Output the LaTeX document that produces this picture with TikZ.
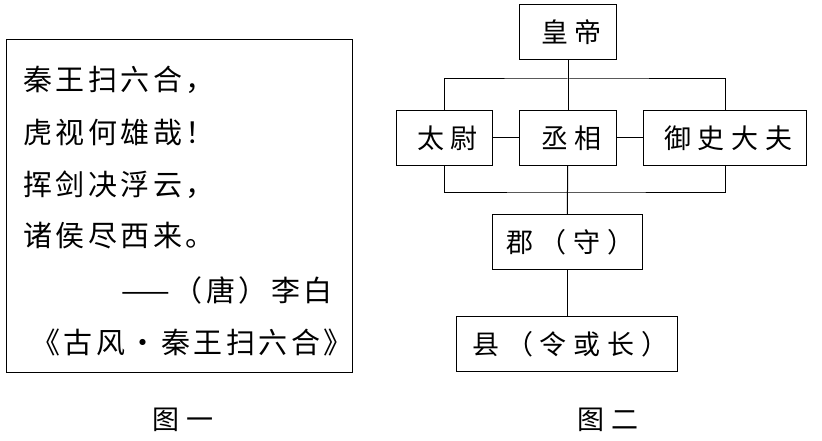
\documentclass[tikz,border=0pt]{standalone}
\usepackage{fontspec}
\setmainfont{Noto Sans CJK SC}
\newfontfamily\poemfont[LetterSpace=12]{Noto Sans CJK SC}
\newfontfamily\boxfont[LetterSpace=25]{Noto Sans CJK SC}
\usetikzlibrary{positioning}

\begin{document}
\begin{tikzpicture}[x=1pt, y=-1pt, font=\boxfont\fontsize{27}{30}\selectfont,
    box/.style={draw, line width=1pt, minimum height=55pt, inner sep=0pt, align=center,
      execute at begin node=\hspace{0.25em}},
    poem/.style={anchor=west, inner sep=0pt, font=\poemfont\fontsize{29}{32}\selectfont},
    link/.style={line width=1pt}]
  \useasboundingbox (0,0) rectangle (822,441);

  % left: poem in a frame
  \draw[line width=1pt] (6,40) rectangle (352,372);
  \node[poem] (l1) at (23,80) {秦王扫六合，};
  \node[poem] (l2) at (23,132) {虎视何雄哉！};
  \node[poem] (l3) at (23,185) {挥剑决浮云，};
  \node[poem] (l4) at (23,236) {诸侯尽西来。};
  \node[poem, anchor=east] (l5) at (333,290) {——（唐）李白};
  \node[poem] (l6) at (31,342) {《古风·秦王扫六合》};
  \node (cap1) at (183,420) {图一};

  % right: the officials
  \node[box, minimum width=97pt] (emp) at (568,32) {皇帝};
  \node[box, minimum width=96pt] (tw) at (444,138) {太尉};
  \node[box, minimum width=97pt] (cx) at (568,138) {丞相};
  \node[box, minimum width=163pt] (ys) at (725,138) {御史大夫};
  \node[box, minimum width=150pt] (jun) at (567,242) {郡（守）};
  \node[box, minimum width=221pt] (xian) at (567,344) {县（令或长）};
  \node (cap2) at (608,420) {图二};

  \coordinate (topbar) at (568,79);
  \coordinate (botbar) at (568,192);
  \draw[link] (emp) -- (cx);
  \draw[link] (tw.north) |- (topbar) -| (ys.north);
  \draw[link] (tw.south) |- (botbar) -| (ys.south);
  \draw[link] (tw) -- (cx);
  \draw[link] (cx) -- (ys);
  \draw[link] (cx) -- (jun);
  \draw[link] (jun) -- (xian);
\end{tikzpicture}
\end{document}
